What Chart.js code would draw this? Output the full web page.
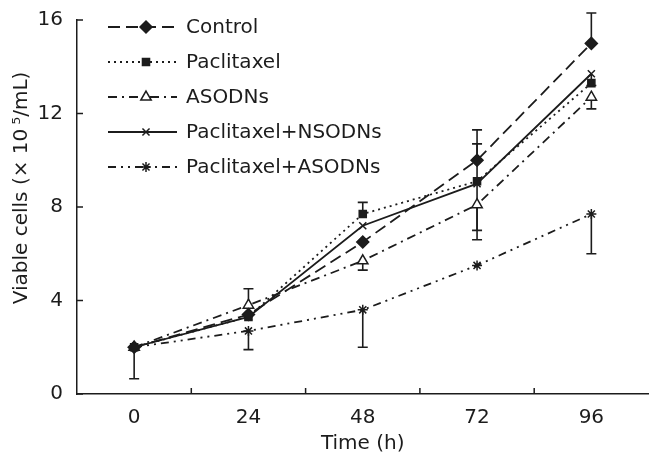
<!DOCTYPE html>
<html>
<head>
<meta charset="utf-8">
<script src="https://cdn.jsdelivr.net/npm/chart.js@4.4.1/dist/chart.umd.min.js"></script>
<style>
  html, body { margin: 0; padding: 0; background: #fff; overflow: hidden; }
  #wrap { width: 656px; height: 462px; }
</style>
</head>
<body>
<div id="wrap"><canvas id="chart"></canvas></div>
<script>
// time points (h)
const timeLabels = ["0", "24", "48", "72", "96"];

// viable cells, x10^5/mL
const control     = [2.0, 3.4, 6.5, 10.0, 15.0];
const paclitaxel  = [2.0, 3.3, 7.7, 9.1, 13.3];
const asodns      = [2.0, 3.8, 5.7, 8.1, 12.7];
const pNsodns     = [2.0, 3.3, 7.2, 9.0, 13.7];
const pAsodns     = [2.0, 2.7, 3.6, 5.5, 7.7];

// error bars (up / down)
const controlUp     = [0, 0, 0, 1.3, 1.3];
const controlDown   = [0, 0, 0, 0, 0];
const paclitaxelUp  = [0, 0, 0.5, 1.6, 0];
const paclitaxelDown= [0, 0, 0, 0, 0];
const asodnsUp      = [0, 0.7, 0, 0, 0];
const asodnsDown    = [0, 0, 0.4, 1.5, 0.5];
const pNsodnsUp     = [0, 0, 0, 0, 0];
const pNsodnsDown   = [0, 0, 0, 2.0, 0.5];
const pAsodnsUp     = [0, 0, 0, 0, 0];
const pAsodnsDown   = [1.35, 0.8, 1.6, 0, 1.7];

const yTicks = [0, 4, 8, 12, 16];

const ink = "#1c1c1c";
const fontFamily = "'DejaVu Sans', Verdana, sans-serif";
const fontSize = 20;

function makeSet(label, data, up, down, dash, style, radius, fill) {
    return {
        label: label,
        data: data,
        errUp: up,
        errDown: down,
        borderColor: ink,
        borderWidth: 1.8,
        borderDash: dash,
        pointStyle: style,
        pointRadius: radius,
        pointBorderColor: ink,
        pointBorderWidth: 1.5,
        pointBackgroundColor: fill,
        tension: 0,
        fill: false
    };
}

const datasets = [
    makeSet("Control", control, controlUp, controlDown, [12, 6], "rectRot", 6, ink),
    makeSet("Paclitaxel", paclitaxel, paclitaxelUp, paclitaxelDown, [2, 4], "rect", 5, ink),
    makeSet("ASODNs", asodns, asodnsUp, asodnsDown, [9, 5, 2, 5], "triangle", 6, "#fff"),
    makeSet("Paclitaxel+NSODNs", pNsodns, pNsodnsUp, pNsodnsDown, [], "crossRot", 5, ink),
    makeSet("Paclitaxel+ASODNs", pAsodns, pAsodnsUp, pAsodnsDown, [8, 5, 2, 5, 2, 5], "star", 5, ink)
];

// error bars drawn under the markers
const errorBars = {
    id: "errorBars",
    beforeDatasetsDraw(chart) {
        const ctx = chart.ctx;
        const xs = chart.scales.x, ys = chart.scales.y;
        ctx.save();
        ctx.strokeStyle = ink;
        ctx.lineWidth = 1.6;
        ctx.setLineDash([]);
        chart.data.datasets.forEach((ds) => {
            ds.data.forEach((v, i) => {
                const x = xs.getPixelForValue(i);
                const y0 = ys.getPixelForValue(v);
                [v + ds.errUp[i], v - ds.errDown[i]].forEach((end) => {
                    if (end === v) return;
                    const y1 = ys.getPixelForValue(end);
                    ctx.beginPath();
                    ctx.moveTo(x, y0);
                    ctx.lineTo(x, y1);
                    ctx.moveTo(x - 5, y1);
                    ctx.lineTo(x + 5, y1);
                    ctx.stroke();
                });
            });
        });
        ctx.restore();
    }
};

// inward tick marks
const innerTicks = {
    id: "innerTicks",
    afterDraw(chart) {
        const ctx = chart.ctx;
        const xs = chart.scales.x, ys = chart.scales.y;
        const area = chart.chartArea;
        ctx.save();
        ctx.strokeStyle = ink;
        ctx.lineWidth = 1.5;
        ctx.beginPath();
        yTicks.forEach((t) => {
            const y = ys.getPixelForValue(t);
            ctx.moveTo(area.left, y);
            ctx.lineTo(area.left + 6, y);
        });
        for (let i = 0; i < timeLabels.length - 1; i++) {
            const x = (xs.getPixelForValue(i) + xs.getPixelForValue(i + 1)) / 2;
            ctx.moveTo(x, area.bottom);
            ctx.lineTo(x, area.bottom - 6);
        }
        ctx.stroke();
        ctx.restore();
    }
};

// legend with line sample + marker
const lineLegend = {
    id: "lineLegend",
    afterDraw(chart) {
        const ctx = chart.ctx;
        ctx.save();
        chart.data.datasets.forEach((ds, i) => {
            const y = 27 + i * 35;
            ctx.strokeStyle = ink;
            ctx.lineWidth = ds.borderWidth;
            ctx.setLineDash(ds.borderDash);
            ctx.beginPath();
            ctx.moveTo(108, y);
            ctx.lineTo(177, y);
            ctx.stroke();
            ctx.setLineDash([]);
            ctx.fillStyle = ds.pointBackgroundColor;
            ctx.lineWidth = ds.pointBorderWidth;
            Chart.helpers.drawPoint(ctx, {
                pointStyle: ds.pointStyle,
                radius: ds.pointRadius,
                rotation: 0,
                borderWidth: ds.pointBorderWidth
            }, 146, y);
            ctx.fillStyle = ink;
            ctx.font = fontSize + "px " + fontFamily;
            ctx.textBaseline = "middle";
            ctx.fillText(ds.label, 186, y + 1);
        });
        ctx.restore();
    }
};

new Chart(document.getElementById("chart"), {
    type: "line",
    data: { labels: timeLabels, datasets: datasets },
    options: {
        responsive: true,
        maintainAspectRatio: false,
        animation: false,
        layout: { padding: { top: 20, right: 0, left: 10, bottom: 6 } },
        plugins: {
            legend: { display: false },
            tooltip: { enabled: false }
        },
        scales: {
            x: {
                type: "category",
                offset: true,
                afterFit(scale) { scale.paddingLeft = 0; scale.paddingRight = 0; },
                grid: { display: false, drawTicks: false },
                border: { display: true, color: ink, width: 1.5 },
                ticks: { color: ink, padding: 12, font: { family: fontFamily, size: fontSize } },
                title: { display: true, text: "Time (h)", color: ink, padding: { top: -10, bottom: 0 }, font: { family: fontFamily, size: fontSize } }
            },
            y: {
                min: 0,
                max: 16,
                afterBuildTicks(scale) { scale.ticks = yTicks.map((v) => ({ value: v })); },
                afterFit(scale) { scale.paddingTop = 0; scale.paddingBottom = 0; scale.width = 67; },
                grid: { display: false, drawTicks: false },
                border: { display: true, color: ink, width: 1.5 },
                ticks: { color: ink, padding: 14, font: { family: fontFamily, size: fontSize } },
                title: { display: true, text: "\u00a0\u00a0\u00a0\u00a0\u00a0\u00a0Viable cells (× 10\u2009⁵/mL)", color: ink, padding: { top: 0, bottom: -8 }, font: { family: fontFamily, size: fontSize } }
            }
        }
    },
    plugins: [errorBars, innerTicks, lineLegend]
});
</script>
</body>
</html>
